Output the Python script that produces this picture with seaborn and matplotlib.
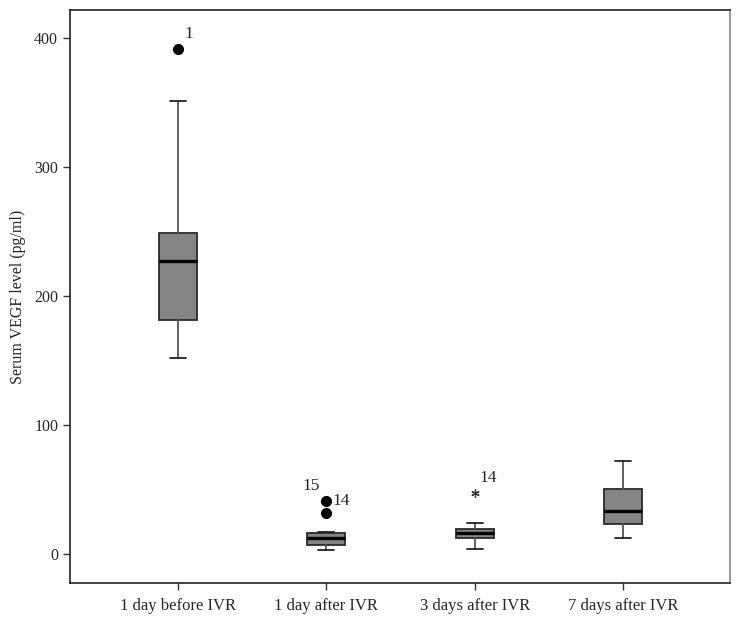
import matplotlib
matplotlib.use("Agg")
import matplotlib.pyplot as plt
import seaborn as sns

# five-number summaries (pg/ml)
groups = ["1 day before IVR", "1 day after IVR", "3 days after IVR", "7 days after IVR"]
whisker_low = [152, 3, 4, 12]
q1 = [181, 7, 12, 23]
median = [227, 12, 16, 33]
q3 = [249, 16, 19, 50]
whisker_high = [351, 17, 24, 72]

# mild outliers (circles)
outlier_group = [0, 1, 1]
outlier_value = [391, 41, 32]

# extreme outliers (asterisks)
extreme_group = [2]
extreme_value = [47]

# case number labels next to the outliers
case_label = ["1", "15", "14", "14"]
case_group = [0, 1, 1, 2]
case_value = [391, 41, 41, 47]
case_offset = [(8, 11), (-11, 11), (11, 0), (10, 11)]

sns.set_style("ticks")
plt.rcParams["font.family"] = ["Liberation Serif", "DejaVu Serif"]

fig = plt.figure(figsize=(7.41, 6.22), dpi=100)
ax = fig.add_axes([70 / 741, 1 - 583 / 622, 660 / 741, 573 / 622])

stats = []
for i, name in enumerate(groups):
    fl = [v for g, v in zip(outlier_group, outlier_value) if g == i]
    stats.append({"label": name, "whislo": whisker_low[i], "q1": q1[i], "med": median[i],
                  "q3": q3[i], "whishi": whisker_high[i], "fliers": fl})

ax.bxp(stats, positions=range(len(groups)), widths=0.256, capwidths=0.11,
       patch_artist=True,
       boxprops=dict(facecolor="#858585", edgecolor="#2a2a2a", linewidth=1.3),
       medianprops=dict(color="black", linewidth=2.4),
       whiskerprops=dict(color="#555555", linewidth=1.3),
       capprops=dict(color="#222222", linewidth=1.3),
       flierprops=dict(marker="o", markerfacecolor="black", markeredgecolor="black",
                       markersize=7))

ax.plot(extreme_group, extreme_value, linestyle="none", marker=(6, 2, 0),
        markersize=6, color="#333333", markeredgewidth=0.9)

for txt, g, v, off in zip(case_label, case_group, case_value, case_offset):
    ax.annotate(txt, (g, v), xytext=off, textcoords="offset points",
                ha="center", va="center", fontsize=12.5)

ax.set_xlim(-0.727, 3.72)
ax.set_ylim(-22.5, 421.5)
ax.set_yticks([0, 100, 200, 300, 400])
ax.set_xticks(range(len(groups)))
ax.set_xticklabels(groups, fontsize=12)
ax.set_ylabel("Serum VEGF level (pg/ml)", fontsize=11.5, labelpad=6)
ax.tick_params(axis="y", labelsize=11.5, length=5, width=1, color="#333333")
ax.tick_params(axis="x", length=5, width=1, color="#333333", pad=6)

for s in ax.spines.values():
    s.set_visible(True)
    s.set_linewidth(1.2)
    s.set_color("#222222")
ax.spines["right"].set_color("#888888")

fig.savefig("out.png", dpi=100)
